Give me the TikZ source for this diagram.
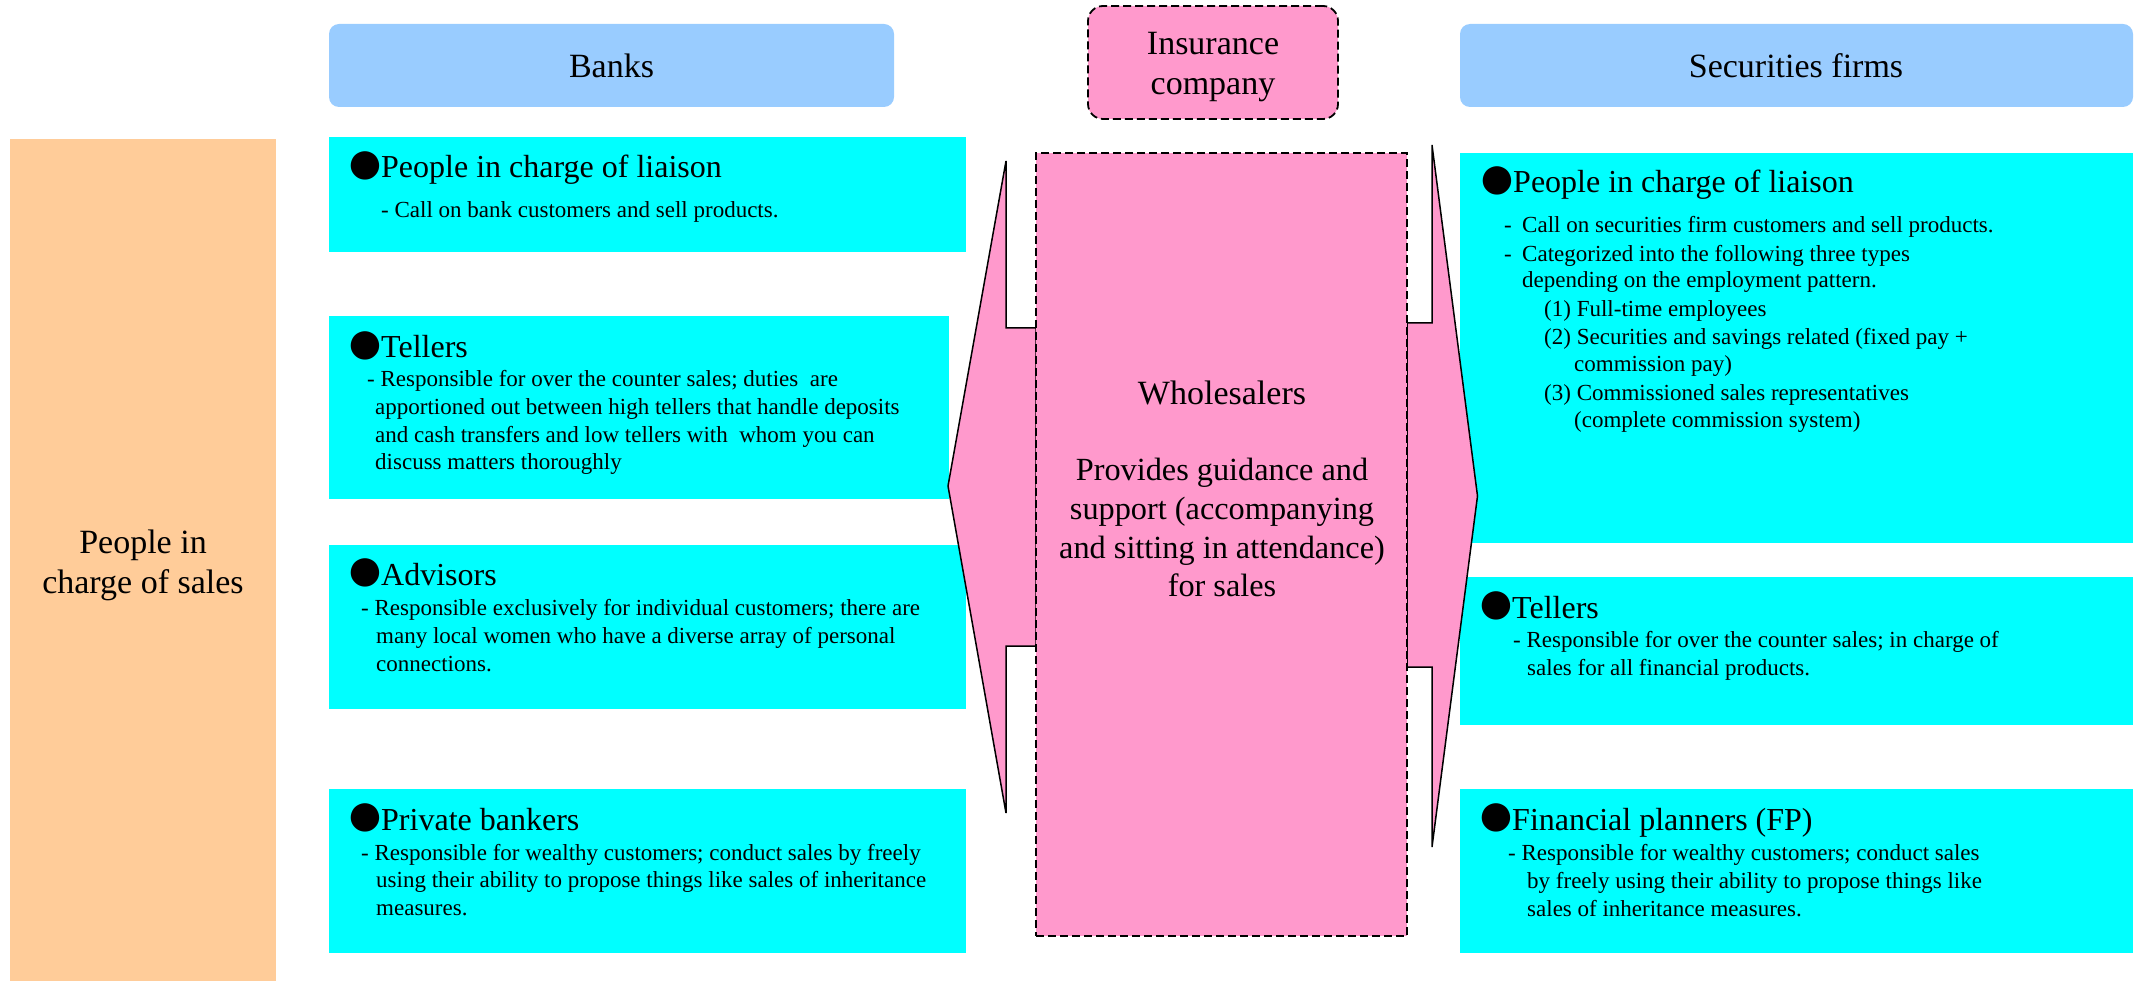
\documentclass[tikz,border=0pt]{standalone}
\usepackage{fontspec}
\setmainfont{Liberation Serif}
\definecolor{hdrblue}{HTML}{99CCFF}
\definecolor{cardcyan}{HTML}{00FFFF}
\definecolor{salesorange}{HTML}{FFCC99}
\definecolor{wpink}{HTML}{FF99CC}
\newcommand\bigf{\fontsize{34}{40}\selectfont}
\newcommand\midf{\fontsize{32.3}{39}\selectfont}
\newcommand\headf{\fontsize{32}{38}\selectfont}
\newcommand\bodyf{\fontsize{23}{27.5}\selectfont}
\newcommand\bul{\makebox[28pt][l]{\hspace*{-7.5pt}\raisebox{-6.6pt}{\fontsize{66}{66}\selectfont ●}}}
\tikzset{
  hdrbox/.style={fill=hdrblue, draw=none, rounded corners=10pt, inner sep=0pt, outer sep=0pt},
  cardbox/.style={fill=cardcyan, draw=none, inner sep=0pt, outer sep=0pt},
  salesbox/.style={fill=salesorange, draw=none, inner sep=0pt, outer sep=0pt},
  pinkdash/.style={fill=wpink, draw=black, line width=1.8pt, dash pattern=on 8pt off 4pt, inner sep=0pt, outer sep=0pt},
  arrowshape/.style={fill=wpink, draw=black, line width=1.5pt, line join=miter},
  bigtxt/.style={font=\bigf, anchor=base, inner sep=0pt},
  midtxt/.style={font=\midf, anchor=base, inner sep=0pt},
  headtxt/.style={font=\headf, anchor=base west, inner sep=0pt},
  bodytxt/.style={font=\bodyf, anchor=base west, inner sep=0pt},
}
\newcommand\bline[4]{\node[bodytxt] (#1) at (#2,#3) {#4};}
\newcommand\ctrline[4]{\node[bigtxt] (#1) at (#2,#3) {#4};}
\newcommand\midline[4]{\node[midtxt] (#1) at (#2,#3) {#4};}
\begin{document}
\begin{tikzpicture}[x=1pt,y=-1pt]
\useasboundingbox (0,0) rectangle (2136,981);
% header boxes
\node[hdrbox, minimum width=565pt, minimum height=83pt] (banks) at (611.5,65.5) {};
\node[hdrbox, minimum width=673pt, minimum height=83pt] (secf) at (1796.5,65.5) {};
\ctrline{bankstxt}{611.5}{78}{Banks}
\ctrline{secftxt}{1796}{78}{Securities firms}
% sales column
\node[salesbox, minimum width=266pt, minimum height=842pt] (sales) at (143,560) {};
\ctrline{sales1}{143}{553}{People in}
\ctrline{sales2}{143}{593}{charge of sales}
% bank cards
\node[cardbox, minimum width=637pt, minimum height=115pt] (bliais) at (647.5,194.5) {};
\node[cardbox, minimum width=620pt, minimum height=183pt] (btell) at (639,407.5) {};
\node[cardbox, minimum width=637pt, minimum height=164pt] (badv) at (647.5,627) {};
\node[cardbox, minimum width=637pt, minimum height=164pt] (bpriv) at (647.5,871) {};
% securities cards
\node[cardbox, minimum width=673pt, minimum height=390pt] (sliais) at (1796.5,348) {};
\node[cardbox, minimum width=673pt, minimum height=148pt] (stell) at (1796.5,651) {};
\node[cardbox, minimum width=673pt, minimum height=164pt] (sfp) at (1796.5,871) {};
% wholesaler arrows
\draw[arrowshape] (1036,328) -- (1006,328) -- (1006,161) -- (948,486) -- (1006,813) -- (1006,646) -- (1036,646) -- cycle;
\draw[arrowshape] (1407,323) -- (1432,323) -- (1432,145) -- (1477.5,496) -- (1432,847) -- (1432,667) -- (1407,667) -- cycle;
\node[pinkdash, minimum width=371pt, minimum height=783pt] (whole) at (1221.5,544.5) {};
\node[pinkdash, rounded corners=15pt, minimum width=250pt, minimum height=113pt] (ins) at (1213,62.5) {};
\ctrline{ins1}{1213}{55}{Insurance}
\ctrline{ins2}{1213}{95}{company}
\ctrline{wh0}{1222}{404}{Wholesalers}
\midline{wh1}{1222}{480}{Provides guidance and}
\midline{wh2}{1222}{519}{support (accompanying}
\midline{wh3}{1222}{558}{and sitting in attendance)}
\midline{wh4}{1222}{596}{for sales}
% bank texts
\node[headtxt] (bliaish) at (353,178) {\bul People in charge of liaison};
\bline{bl1}{381}{218}{- Call on bank customers and sell products.}
\node[headtxt] (btellh) at (353,358) {\bul Tellers};
\bline{bt1}{367}{387}{- Responsible for over the counter sales; duties\ \ are}
\bline{bt2}{375}{414}{apportioned out between high tellers that handle deposits}
\bline{bt3}{375}{442}{and cash transfers and low tellers with\ \ whom you can}
\bline{bt4}{375}{469}{discuss matters thoroughly}
\node[headtxt] (badvh) at (353,585) {\bul Advisors};
\bline{ba1}{361}{615}{- Responsible exclusively for individual customers; there are}
\bline{ba2}{376}{643}{many local women who have a diverse array of personal}
\bline{ba3}{376}{671}{connections.}
\node[headtxt] (bprivh) at (353,830) {\bul Private bankers};
\bline{bp1}{361}{860}{- Responsible for wealthy customers; conduct sales by freely}
\bline{bp2}{376}{887}{using their ability to propose things like sales of inheritance}
\bline{bp3}{376}{915}{measures.}
% securities texts
\node[headtxt] (sliaish) at (1485,193) {\bul People in charge of liaison};
\bline{sl1a}{1504}{233}{-}
\bline{sl1}{1522}{233}{Call on securities firm customers and sell products.}
\bline{sl2a}{1504}{262}{-}
\bline{sl2}{1522}{262}{Categorized into the following three types}
\bline{sl3}{1522}{288}{depending on the employment pattern.}
\bline{sl4}{1544}{317}{(1) Full-time employees}
\bline{sl5}{1544}{345}{(2) Securities and savings related (fixed pay +}
\bline{sl6}{1574}{372}{commission pay)}
\bline{sl7}{1544}{400}{(3) Commissioned sales representatives}
\bline{sl8}{1574}{427}{(complete commission system)}
\node[headtxt] (stellh) at (1484,618) {\bul Tellers};
\bline{st1}{1513}{647}{- Responsible for over the counter sales; in charge of}
\bline{st2}{1527}{675}{sales for all financial products.}
\node[headtxt] (sfph) at (1484,830) {\bul Financial planners (FP)};
\bline{sf1}{1508}{860}{- Responsible for wealthy customers; conduct sales}
\bline{sf2}{1527}{888}{by freely using their ability to propose things like}
\bline{sf3}{1527}{916}{sales of inheritance measures.}
\end{tikzpicture}
\end{document}
